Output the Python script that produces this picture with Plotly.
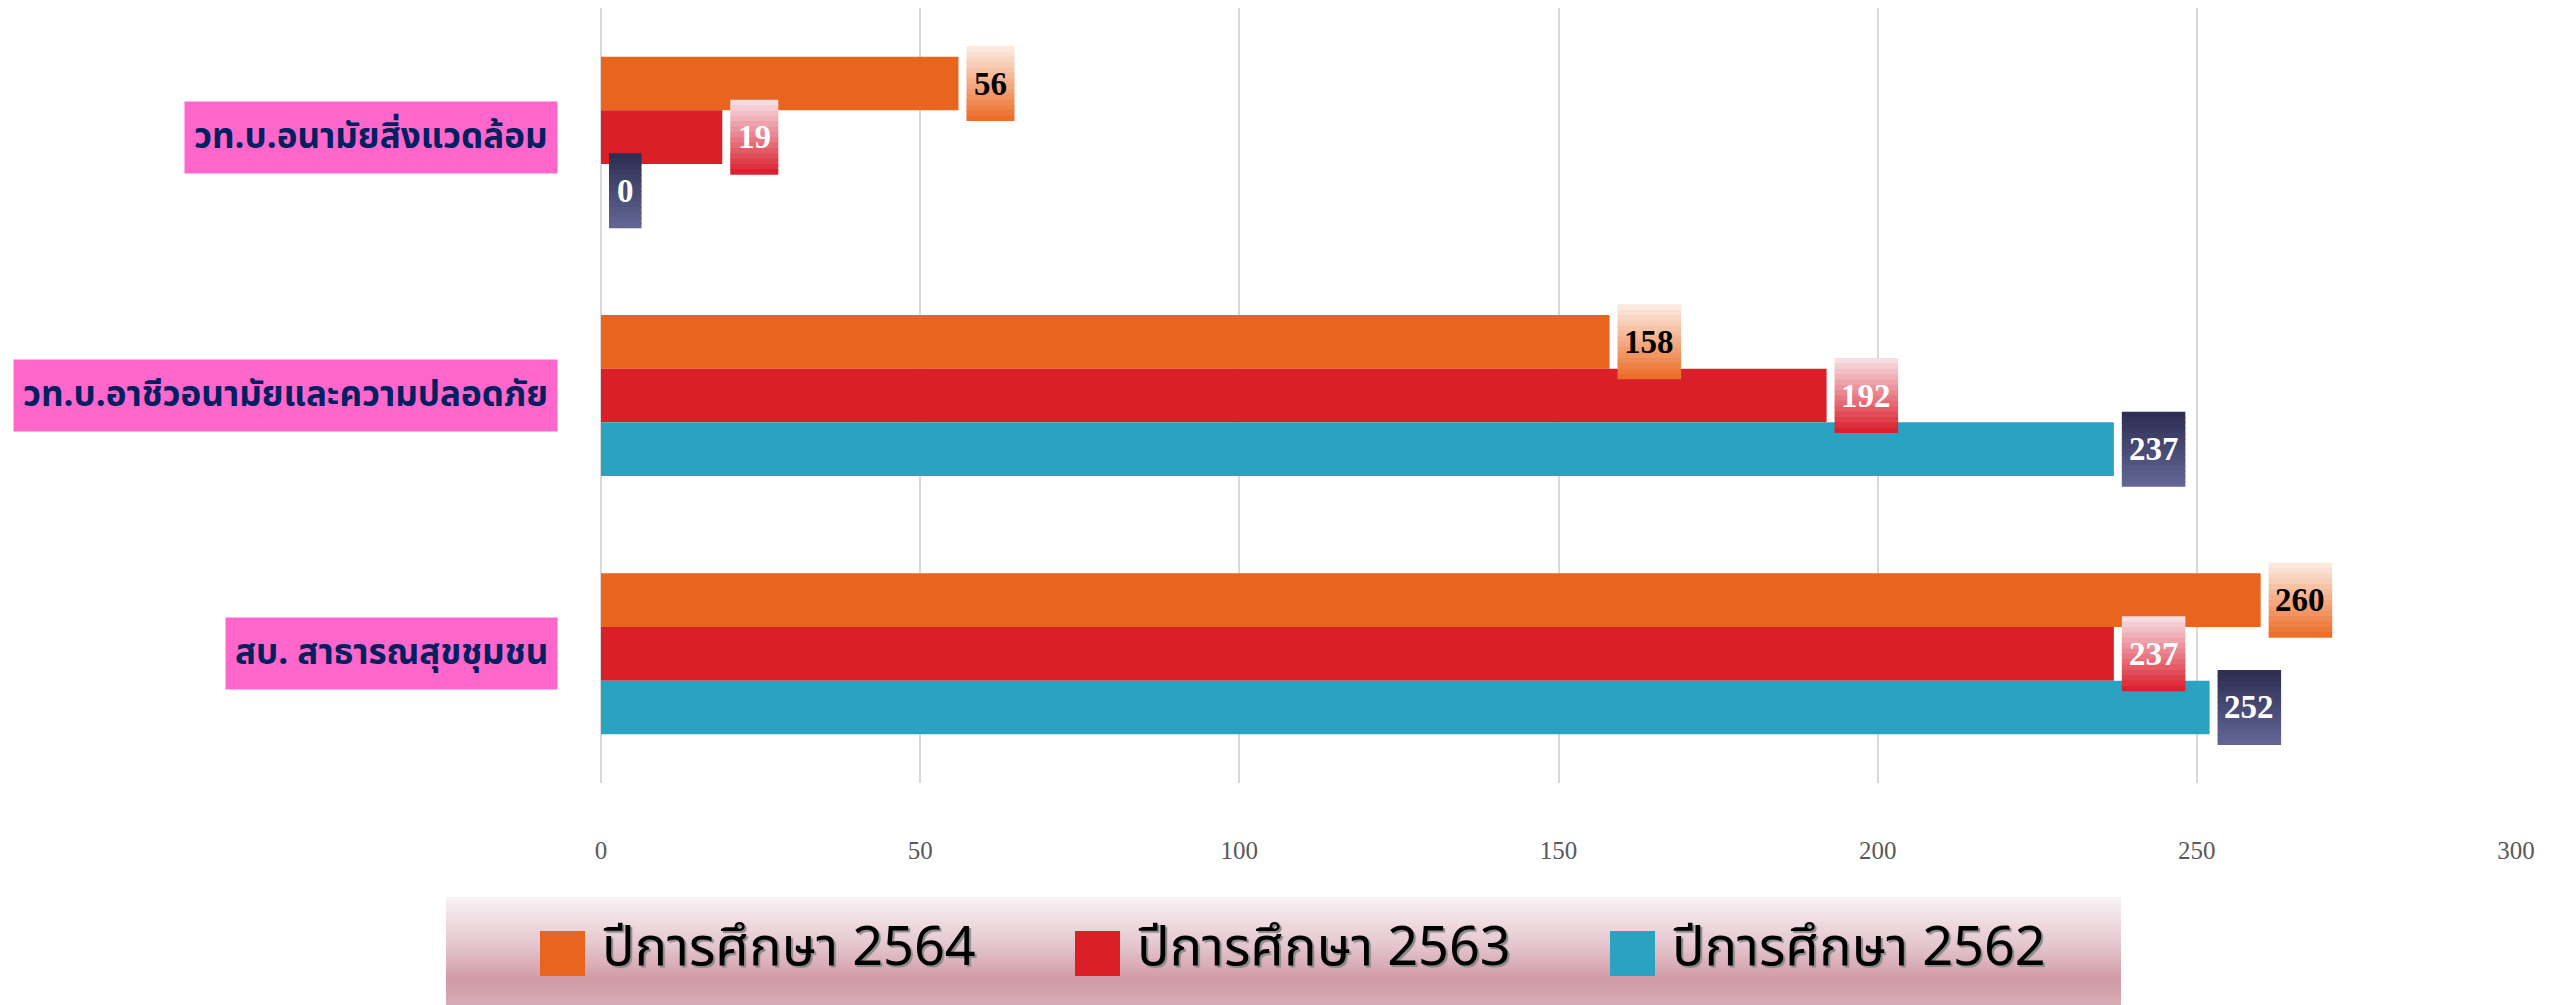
import plotly.graph_objects as go

# ---------------- data ----------------
categories = ["วท.บ.อนามัยสิ่งแวดล้อม", "วท.บ.อาชีวอนามัยและความปลอดภัย", "สบ. สาธารณสุขชุมชน"]
series_names = ["ปีการศึกษา  2564", "ปีการศึกษา  2563", "ปีการศึกษา  2562"]
values_2564 = [56, 158, 260]
values_2563 = [19, 192, 237]
values_2562 = [0, 237, 252]
x_ticks = [0, 50, 100, 150, 200, 250, 300]

# ---------------- style ----------------
OFF = 8  # page body margin
W, H = 2549 - OFF, 1005 - OFF
ML, MT = 601 - OFF, 8 - OFF
PLOT_R, PLOT_B = 2516 - OFF, 783 - OFF
MR, MB = W - PLOT_R, H - PLOT_B
PW, PH = PLOT_R - ML, PLOT_B - MT
XMAX = 300
BARGAP = 0.377
bar_colors = ["#E9651F", "#DA1F29", "#2BA2BF"]
label_text_colors = ["#000000", "#FFFFFF", "#FFFFFF"]
label_grad = [((251, 233, 223), (236, 110, 42)),
              ((247, 220, 225), (219, 33, 48)),
              ((46, 47, 83), (98, 101, 148))]
cat_font = "Noto Sans Thai, Noto Sans, sans-serif"


def px2xp(px):  # reference page px -> paper x
    return (px - OFF - ML) / PW


def px2yp(py):  # reference page px -> paper y
    return (MT + PH - (py - OFF)) / PH


def mix(c0, c1, t):
    return "rgb(%d,%d,%d)" % tuple(round(a + (b - a) * t) for a, b in zip(c0, c1))


series_values = [values_2564, values_2563, values_2562]

fig = go.Figure()
for name, vals, col in zip(series_names, series_values, bar_colors):
    fig.add_trace(go.Bar(
        y=categories, x=vals, name=name, orientation="h",
        marker=dict(color=col, line=dict(width=0)),
        showlegend=False, hoverinfo="x+name",
    ))

shapes = []
annotations = []

# ---- data label callouts (gradient boxes) ----
x_per_px = XMAX / PW
y_per_px = 3 / PH
bar_w = (1 - BARGAP) / 3
box_h_px = 75
n_strips = 14
for si, vals in enumerate(series_values):
    offset = (si - 1) * bar_w
    for ci, v in enumerate(vals):
        txt = str(v)
        box_w_px = 17 + 15.5 * len(txt)
        x0 = v + 8 * x_per_px
        x1 = x0 + box_w_px * x_per_px
        yc = ci + offset
        ytop = yc - box_h_px / 2 * y_per_px
        hh = box_h_px * y_per_px
        c0, c1 = label_grad[si]
        for k in range(n_strips):
            t = k / (n_strips - 1)
            y1 = ytop + hh * (k + 1) / n_strips
            if k < n_strips - 1:
                y1 += 1.2 * y_per_px
            shapes.append(dict(
                type="rect", xref="x", yref="y",
                x0=x0, x1=x1,
                y0=ytop + hh * k / n_strips, y1=y1,
                fillcolor=mix(c0, c1, t), line=dict(width=0), layer="above",
            ))
        annotations.append(dict(
            x=(x0 + x1) / 2, y=yc, xref="x", yref="y", text="<b>%s</b>" % txt,
            showarrow=False, xanchor="center", yanchor="middle",
            font=dict(family="Liberation Serif", size=33, color=label_text_colors[si]),
        ))

# ---- category labels (pink boxes) ----
for ci, cat in enumerate(categories):
    annotations.append(dict(
        x=px2xp(558), y=ci, xref="paper", yref="y",
        text="<b>%s</b>" % cat, showarrow=False,
        xanchor="right", yanchor="middle",
        bgcolor="#FF66CC", borderpad=9,
        font=dict(family=cat_font, size=35, color="#002060"),
    ))

# ---- legend background gradient ----
lg_x0, lg_x1, lg_y0, lg_y1 = 446, 2121, 897, 1005
stops = [(0.0, (249, 242, 244)), (0.45, (229, 198, 206)), (0.77, (207, 153, 165)), (1.0, (216, 172, 182))]
n_lg = 30
for k in range(n_lg):
    t = (k + 0.5) / n_lg
    for (a, ca), (b, cb) in zip(stops[:-1], stops[1:]):
        if a <= t <= b:
            col = mix(ca, cb, (t - a) / (b - a))
            break
    ya = lg_y0 + (lg_y1 - lg_y0) * k / n_lg
    yb = lg_y0 + (lg_y1 - lg_y0) * (k + 1) / n_lg + 1.0
    shapes.append(dict(type="rect", xref="paper", yref="paper",
                       x0=px2xp(lg_x0), x1=px2xp(lg_x1), y0=px2yp(yb), y1=px2yp(ya),
                       fillcolor=col, line=dict(width=0), layer="below"))

# ---- legend items ----
item_step = 535
for i, (name, col) in enumerate(zip(series_names, bar_colors)):
    sx = 540 + i * item_step
    shapes.append(dict(type="rect", xref="paper", yref="paper",
                       x0=px2xp(sx), x1=px2xp(sx + 45), y0=px2yp(976), y1=px2yp(931),
                       fillcolor=col, line=dict(width=0)))
    annotations.append(dict(
        x=px2xp(sx + 60), y=px2yp(948), xref="paper", yref="paper",
        text=name.replace("  ", "\u00a0").replace(" ", "\u00a0"), showarrow=False,
        xanchor="left", yanchor="middle",
        font=dict(family=cat_font, size=54, color="#000000", shadow="2px 2px 1px #8a8a8a"),
    ))

fig.update_layout(
    width=W, height=H,
    margin=dict(l=ML, r=MR, t=MT, b=MB, pad=0),
    barmode="group", bargap=BARGAP, bargroupgap=0,
    plot_bgcolor="#FFFFFF", paper_bgcolor="#FFFFFF",
    showlegend=False,
    shapes=shapes, annotations=annotations,
    xaxis=dict(range=[0, XMAX], tickvals=x_ticks, showgrid=True, gridcolor="#D9D9D9", gridwidth=2,
               zeroline=True, zerolinecolor="#D9D9D9", zerolinewidth=2,
               ticks="outside", ticklen=45, tickcolor="rgba(0,0,0,0)",
               tickfont=dict(family="Liberation Serif", size=25, color="#595959"),
               showline=False),
    yaxis=dict(categoryorder="array", categoryarray=categories, autorange="reversed",
               showticklabels=False, showgrid=False, zeroline=False, showline=False),
)

fig.write_html("out.html")
